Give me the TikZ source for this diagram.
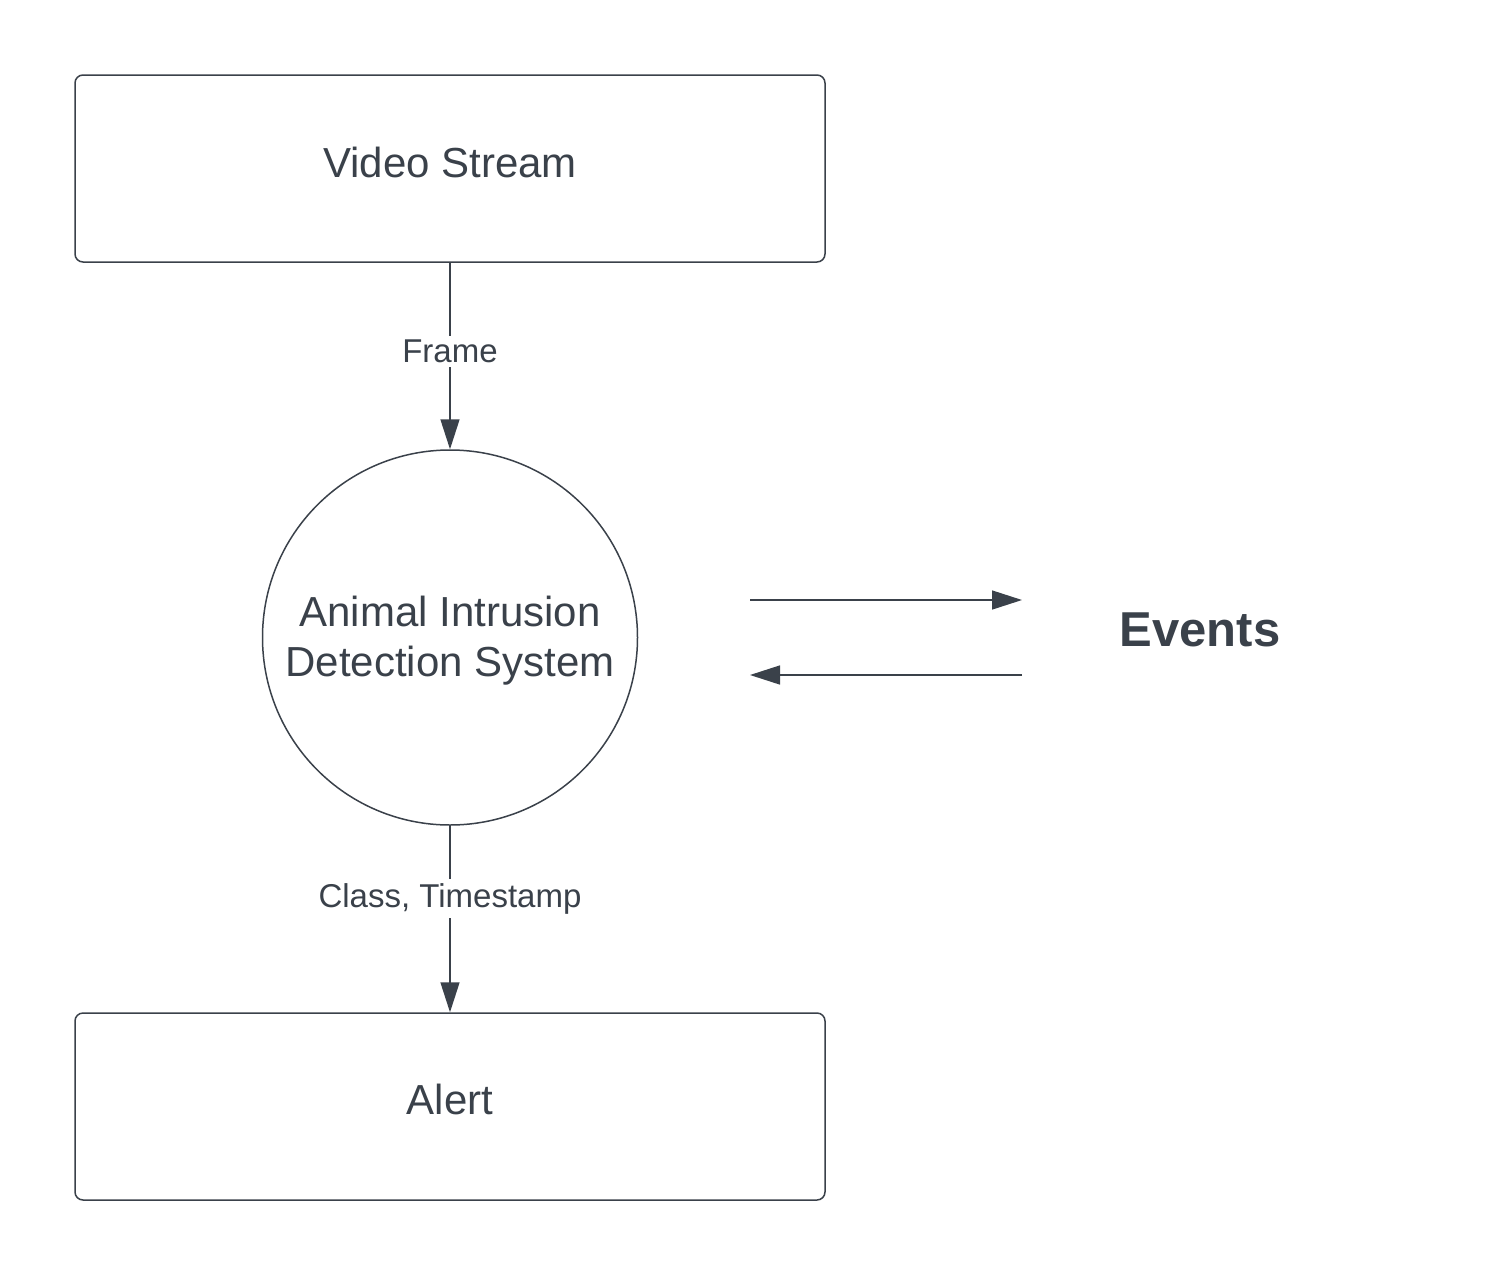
\documentclass[tikz,border=0pt]{standalone}
\usepackage{fontspec}
\setmainfont{Liberation Sans}
\usetikzlibrary{arrows.meta}
\definecolor{ink}{HTML}{3A414A}
\begin{document}
\begin{tikzpicture}[x=1pt,y=-1pt,
  box/.style={draw=ink,line width=1.5pt,rounded corners=8pt,minimum width=750pt,minimum height=187pt,inner sep=0pt},
  boxtext/.style={text=ink,inner sep=0pt,font=\fontsize{42}{50}\selectfont},
  proc/.style={draw=ink,line width=1.5pt,circle,minimum size=375pt,inner sep=0pt},
  proctext/.style={text=ink,align=center,inner sep=0pt,font=\fontsize{42}{50}\selectfont},
  flow/.style={draw=ink,line width=1.5pt,-{Triangle[length=30pt,width=19pt]}},
  lbl/.style={fill=white,text=ink,inner sep=4pt,font=\fontsize{33}{38}\selectfont}]
\useasboundingbox (0,0) rectangle (1500,1275);
\node[box] (vs) at (450,168.5) {};
\node[boxtext] (vst) at ([yshift=6.5]vs.center) {Video Stream};
\node[proc] (ids) at (450,637.5) {};
\node[proctext] (idst) at ([yshift=-3]ids.center) {Animal Intrusion\\Detection System};
\node[box] (al) at (450,1106.5) {};
\node[boxtext] (alt) at ([yshift=7.5]al.center) {Alert};
\node[text=ink,font=\bfseries\fontsize{49}{56}\selectfont] (ev) at (1200,630) {Events};
\coordinate (a1) at (750,600);
\coordinate (a2) at (1022,600);
\coordinate (b1) at (1022,675);
\coordinate (b2) at (750,675);
\draw[flow] (vs.south) -- node[lbl,pos=0.475] (fr) {Frame} (ids.north);
\draw[flow] (ids.south) -- node[lbl,pos=0.39] (ct) {Class, Timestamp} (al.north);
\draw[flow] (a1) -- (a2);
\draw[flow] (b1) -- (b2);
\end{tikzpicture}
\end{document}
